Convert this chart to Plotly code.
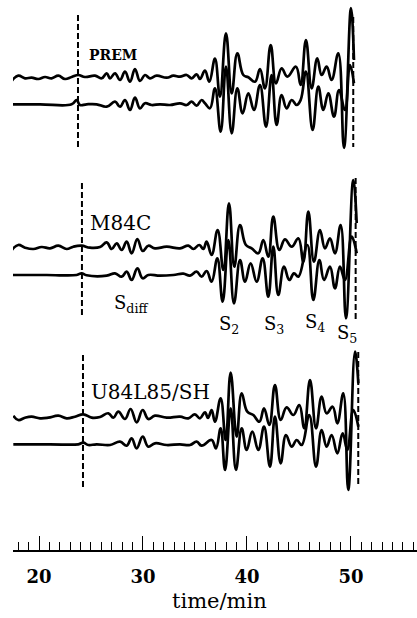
import plotly.graph_objects as go

# ---------------- data (time in minutes, amplitude in trace units) ----------------
prem_obs_t = [17.37,18.01,18.65,19.29,19.94,20.58,21.22,21.86,22.5,23.14,23.78,24.42,25.38,26.03,26.51,26.83,27.31,27.79,28.27,28.75,29.23,29.71,30.19,30.67,31.31,32.28,32.92,33.56,34.2,34.68,35.16,35.48,35.96,36.38,36.92,37.4,37.98,38.53,39.07,39.65,40.13,40.77,41.25,41.73,42.28,42.79,43.33,43.88,44.71,45.16,45.67,46.22,46.76,47.18,47.66,48.14,48.78,49.33,50.0,50.29]
prem_obs_a = [-3.0,2.3,-0.3,0.3,-1.0,1.0,-0.3,2.3,-1.0,1.0,3.0,1.0,2.3,-0.3,4.7,-0.3,4.7,-2.0,6.3,-3.7,9.0,-3.0,3.0,-0.3,2.3,0.3,2.3,1.3,3.0,-0.3,3.7,-1.0,7.3,-3.7,19.3,-18.7,44.7,-15.3,24.7,3.0,0.7,-3.7,9.0,-10.3,33.0,-5.3,9.7,1.3,11.3,-7.0,38.0,-10.3,19.7,3.0,11.3,-2.0,24.7,-70.0,70.0,18.0]

prem_syn_t = [17.37,20.1,23.14,23.62,23.94,24.58,25.54,26.51,27.31,27.79,28.27,28.75,29.23,29.71,30.19,30.83,31.63,32.6,33.56,34.2,34.68,35.16,35.64,35.96,36.44,36.92,37.47,37.98,38.53,39.07,39.58,40.13,40.67,41.25,41.83,42.37,42.85,43.33,43.81,44.3,44.78,45.16,45.67,46.31,46.86,47.34,47.82,48.37,48.85,49.42,49.9,50.29]
prem_syn_a = [-0.3,-0.3,-0.3,4.0,-1.0,-0.3,-0.3,-2.7,2.3,-2.7,4.0,-6.0,6.3,-4.3,0.7,-1.0,-0.3,-1.0,0.7,-1.0,2.3,-1.7,4.0,0.7,-4.3,15.7,-27.7,37.3,-29.3,15.7,-9.3,10.7,-6.0,19.0,-22.7,29.0,-21.0,9.0,-4.3,4.0,-1.0,4.0,32.3,-26.0,17.3,-6.0,10.7,-12.7,14.0,-6.0,39.0,20.7]

m84c_obs_t = [17.37,18.01,18.65,19.46,20.26,21.06,21.86,22.66,23.3,24.1,24.9,25.87,26.51,26.99,27.47,27.95,28.43,28.91,29.46,29.97,30.51,31.15,32.28,33.56,34.36,34.84,35.42,35.8,36.12,36.6,37.18,37.73,38.27,38.78,39.33,39.9,40.45,41.09,41.57,42.05,42.53,43.11,43.65,44.3,44.94,45.42,45.9,46.44,47.02,47.5,47.98,48.46,49.01,49.52,50.22,50.55]
m84c_obs_a = [-2.3,3.0,0.3,-1.0,1.0,-0.3,2.3,-1.0,1.3,2.3,0.3,1.0,5.7,-1.0,4.7,-2.0,6.3,-5.3,9.0,-3.0,2.3,-0.3,1.3,-0.3,2.3,-1.0,3.0,-1.0,6.3,-7.0,18.0,-22.0,44.7,-18.7,23.0,3.0,-0.3,-5.3,8.0,-8.7,31.3,-2.0,8.7,1.3,9.7,-13.7,36.3,-13.7,18.0,-0.3,9.7,-5.3,23.0,-70.3,68.0,25.0]

m84c_syn_t = [17.37,20.74,23.62,24.1,24.58,26.51,27.31,27.95,28.43,28.91,29.46,29.97,30.51,31.63,32.92,33.88,34.52,35.16,35.64,36.12,36.6,37.15,37.66,38.21,38.75,39.33,39.81,40.35,40.93,41.51,42.05,42.53,43.01,43.56,44.07,44.52,44.94,45.8,46.38,46.96,47.41,47.98,48.46,48.94,49.42,50.07,50.55]
m84c_syn_a = [0.0,0.0,0.0,1.7,-0.3,-0.7,1.7,-1.7,3.3,-5.0,6.7,-3.3,0.0,-0.7,0.0,1.3,-0.7,3.3,-1.7,4.0,-6.7,16.7,-26.7,35.0,-28.3,15.0,-6.7,11.7,-6.7,16.7,-21.7,28.3,-20.0,8.3,-5.0,1.7,-1.7,30.0,-25.0,15.0,-5.0,8.3,-13.3,8.3,-5.0,38.3,21.7]

u84_obs_t = [17.53,18.01,18.65,19.29,20.1,20.9,21.86,22.66,23.46,24.26,25.06,25.87,26.67,27.15,27.63,28.27,28.81,29.39,29.97,30.51,31.15,32.28,33.56,34.36,34.99,35.48,35.96,36.25,36.6,36.92,37.47,37.95,38.43,39.01,39.49,40.03,40.61,41.19,41.64,42.15,42.69,43.24,43.81,44.46,45.03,45.51,46.06,46.64,47.18,47.66,48.24,48.69,49.26,49.74,50.39,50.71]
u84_obs_a = [1.3,-3.0,-0.7,0.3,-1.3,-0.7,1.3,-1.3,0.3,2.7,-0.7,0.0,3.7,-0.7,5.3,-2.0,8.0,-5.3,7.0,-2.0,1.3,-0.7,0.3,-1.3,2.7,-1.3,4.7,-1.0,7.0,-4.7,18.7,-23.0,44.3,-19.7,23.7,5.3,2.0,-4.7,8.7,-8.0,32.0,-3.0,9.7,2.0,12.0,-11.3,37.0,-11.3,20.3,3.7,10.3,-6.3,23.7,-73.0,65.3,33.7]

u84_syn_t = [17.53,21.06,23.78,24.26,24.74,25.54,26.83,27.79,28.43,28.91,29.39,29.97,30.51,31.15,32.28,33.56,34.52,35.16,35.64,36.6,37.02,37.47,37.89,38.43,38.94,39.49,39.97,40.51,41.09,41.64,42.21,42.69,43.24,43.75,44.3,44.78,45.26,45.99,46.64,47.18,47.66,48.14,48.69,49.2,49.65,50.22,50.71]
u84_syn_a = [-0.3,-0.3,-0.3,1.3,-1.0,-0.3,-1.0,2.3,-1.7,5.7,-4.3,7.3,-2.7,0.7,-1.0,-0.3,-1.0,2.3,-1.7,4.0,-4.3,15.7,-26.0,35.7,-26.0,15.7,-6.0,12.3,-6.0,17.3,-22.7,27.3,-19.3,9.0,-2.7,4.0,-1.0,29.0,-22.7,14.0,-2.7,9.0,-9.3,10.7,-6.0,34.0,17.3]

model_names = ["PREM", "M84C", "U84L85/SH"]
phase_names = ["S<sub>diff</sub>", "S<sub>2</sub>", "S<sub>3</sub>", "S<sub>4</sub>", "S<sub>5</sub>"]
tick_values = [20, 30, 40, 50]

# ---------------- layout constants (pixel rows of the baselines) ----------------
traces = [
    (prem_obs_t, prem_obs_a, 78), (prem_syn_t, prem_syn_a, 104),
    (m84c_obs_t, m84c_obs_a, 248), (m84c_syn_t, m84c_syn_a, 275),
    (u84_obs_t, u84_obs_a, 417), (u84_syn_t, u84_syn_a, 444),
]

fig = go.Figure()
for t, a, base in traces:
    fig.add_trace(go.Scatter(
        x=t, y=[v - base for v in a], mode="lines",
        line=dict(color="black", width=2.7, shape="spline", smoothing=1.2),
        hoverinfo="skip"))

# dashed marker lines: (time, top row, bottom row)
dashes = [(23.75, 15, 147), (50.22, 17, 147),
          (24.13, 183, 317), (50.45, 178, 320),
          (24.23, 355, 487), (50.70, 352, 487)]
for x0, ytop, ybot in dashes:
    fig.add_shape(type="line", xref="x", yref="y", x0=x0, x1=x0, y0=-ytop, y1=-ybot,
                  line=dict(color="black", width=2, dash="6px,3px"))

serif = "DejaVu Serif"
# model labels
label_pos = [(24.62, 55, 14, "bold"), (24.71, 223, 20, "normal"), (24.80, 392, 20, "normal")]
for name, (x, y, size, w) in zip(model_names, label_pos):
    fig.add_annotation(x=x, y=-y, xref="x", yref="y", text=name, showarrow=False,
                       xanchor="left", yanchor="middle",
                       font=dict(family=serif, size=size, color="black", weight=w))

# phase labels
phase_pos = [(27.02, 304), (37.12, 325), (41.44, 325), (45.38, 323), (48.46, 334)]
for name, (x, y) in zip(phase_names, phase_pos):
    fig.add_annotation(x=x, y=-y, xref="x", yref="y", text=name, showarrow=False,
                       xanchor="left", yanchor="middle",
                       font=dict(family=serif, size=18, color="black"))

fig.add_annotation(x=0.512, y=-51 / 550, xref="paper", yref="paper", text="time/min",
                   showarrow=False, xanchor="center", yanchor="middle",
                   font=dict(family=serif, size=21, color="black"))

fig.update_layout(
    width=417, height=618,
    margin=dict(l=13, r=0, t=0, b=68),
    paper_bgcolor="white", plot_bgcolor="white",
    showlegend=False,
    xaxis=dict(range=[17.5, 56.35], showline=True, linecolor="black", linewidth=1.6,
               ticks="inside", ticklen=14, tickwidth=1.3, tickcolor="black",
               tickmode="array", tickvals=tick_values,
               minor=dict(ticks="inside", dtick=1, tick0=0, ticklen=8, tickwidth=1.2,
                          tickcolor="black", showgrid=False),
               tickfont=dict(family=serif, size=18, color="black", weight="bold"),
               ticklabelstandoff=10,
               showgrid=False, zeroline=False, fixedrange=True),
    yaxis=dict(range=[-550, 0], visible=False, fixedrange=True),
)

fig.write_html("out.html")
